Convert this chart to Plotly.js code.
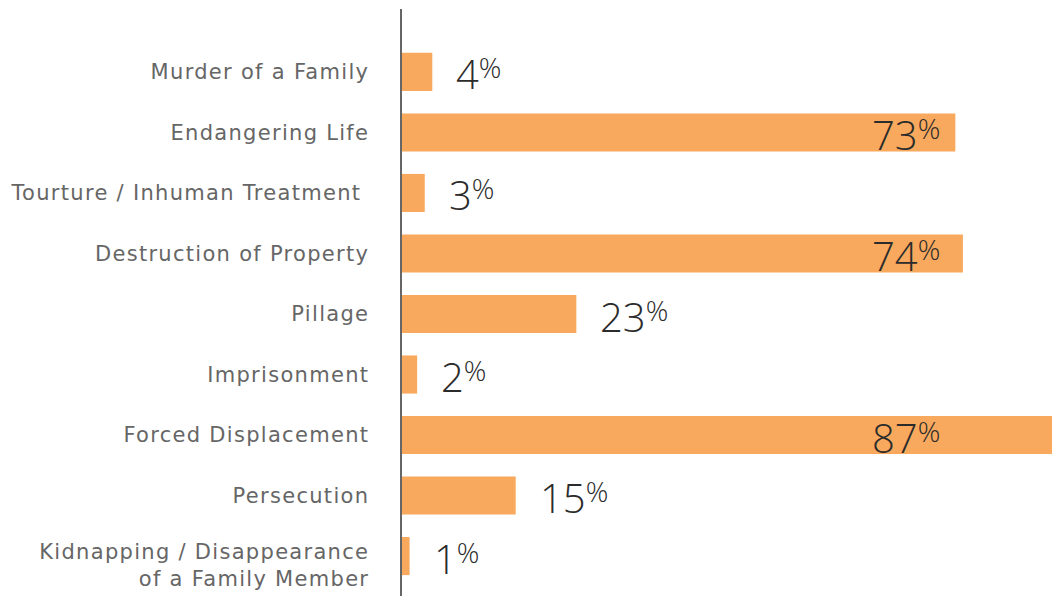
<!DOCTYPE html>
<html>
<head>
<meta charset="utf-8">
<script src="https://cdn.plot.ly/plotly-3.0.1.min.js"></script>
<style>
  html, body { margin: 0; padding: 0; background: #fff; }
  #chart { width: 1052px; height: 596px; }
  .ytick text { letter-spacing: 1.3px; }
</style>
</head>
<body>
<div id="chart"></div>
<script>
const categories = [
  "Murder of a Family",
  "Endangering Life",
  "Tourture / Inhuman Treatment ",
  "Destruction of Property",
  "Pillage",
  "Imprisonment",
  "Forced Displacement",
  "Persecution",
  "Kidnapping / Disappearance<br>of a Family Member"
];
const values = [4, 73, 3, 74, 23, 2, 87, 15, 1];
const valueLabels = values.map(v => v + "<sup>%</sup>");

const xMax = 85.75;
const insideThreshold = 50;

const trace = {
  type: "bar",
  orientation: "h",
  x: values,
  y: categories.map((c, i) => i),
  marker: { color: "#F8A95D" },
  hoverinfo: "skip"
};

const labelFont = { family: "Open Sans", size: 40, color: "#2b2b2b", weight: 300 };

const annotations = values.map((v, i) => {
  const big = v >= insideThreshold;
  return big ? {
    xref: "paper", yref: "y", x: 0.83, y: i,
    text: valueLabels[i], showarrow: false,
    xanchor: "right", yanchor: "middle",
    font: labelFont
  } : {
    xref: "x", yref: "y", x: v, y: i,
    text: valueLabels[i], showarrow: false,
    xanchor: "left", yanchor: "middle", xshift: 22,
    font: labelFont
  };
});

const layout = {
  width: 1052, height: 596,
  margin: { l: 402, r: 0, t: 9, b: 0, pad: 0 },
  paper_bgcolor: "#fff", plot_bgcolor: "#fff",
  bargap: 0.37,
  showlegend: false,
  xaxis: {
    range: [0, xMax], visible: false, fixedrange: true
  },
  yaxis: {
    range: [8.66, -1.04],
    tickmode: "array",
    tickvals: categories.map((c, i) => i),
    ticktext: categories,
    showline: true, linecolor: "#666", linewidth: 2.5,
    showgrid: false, zeroline: false, ticks: "",
    ticklabelstandoff: 26,
    tickfont: { family: "DejaVu Sans", size: 21, color: "#666" },
    fixedrange: true
  },
  annotations: annotations
};

function adjust() {
  document.querySelectorAll(".annotation-text tspan").forEach(t => {
    const dy = t.getAttribute("dy");
    if (dy && parseFloat(dy) < 0) t.setAttribute("dy", "-0.4em");
  });
  const ticks = document.querySelectorAll(".ytick");
  if (ticks.length) {
    const last = ticks[ticks.length - 1];
    last.setAttribute("transform", "translate(0,9)");
  }
}

Plotly.newPlot("chart", [trace], layout, { displayModeBar: false, staticPlot: true })
  .then(adjust);
</script>
</body>
</html>
